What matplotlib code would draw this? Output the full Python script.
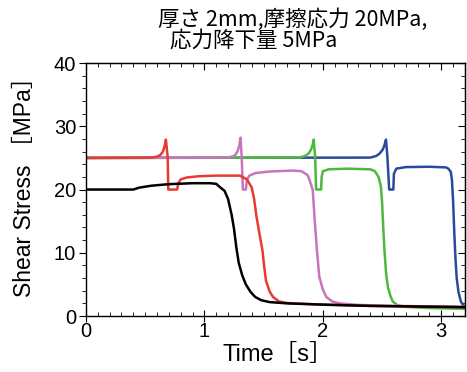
import matplotlib
matplotlib.use("Agg")
import matplotlib.pyplot as plt
from matplotlib.ticker import MultipleLocator

plt.rcParams['font.family'] = ['Liberation Sans', 'Noto Sans CJK JP', 'DejaVu Sans']

# time [s], shear stress [MPa]
t_black = [0, 0.40, 0.45, 0.55, 0.70, 0.90, 1.05, 1.10, 1.13, 1.17, 1.20, 1.23, 1.25, 1.27, 1.29,
           1.32, 1.35, 1.39, 1.43, 1.48, 1.55, 1.70, 2.0, 2.4, 2.8, 3.2]
s_black = [20, 20, 20.3, 20.6, 20.85, 21.0, 21.0, 20.9, 20.4, 19.8, 18.5, 16.0, 13.8, 10.8, 8.4,
           6.4, 5.0, 3.8, 3.0, 2.5, 2.2, 2.0, 1.8, 1.6, 1.5, 1.4]

t_red = [0, 0.55, 0.60, 0.63, 0.65, 0.66, 0.67, 0.675, 0.69, 0.695, 0.77, 0.78, 0.80, 0.85, 0.95,
         1.10, 1.30, 1.36, 1.40, 1.42, 1.44, 1.465, 1.49, 1.505, 1.52, 1.55, 1.58, 1.63, 1.70, 1.80,
         2.0, 2.4, 2.8, 3.2]
s_red = [25, 25.05, 25.2, 25.5, 26.0, 26.6, 27.3, 27.9, 25.2, 20.0, 20.0, 21.0, 21.6, 21.9, 22.1,
         22.2, 22.2, 21.6, 20.3, 18.5, 15.7, 13.0, 10.4, 7.8, 5.6, 3.9, 3.0, 2.3, 2.05, 1.95,
         1.8, 1.6, 1.5, 1.4]

t_mag = [0, 1.20, 1.25, 1.27, 1.285, 1.295, 1.305, 1.315, 1.325, 1.35, 1.36, 1.38, 1.43, 1.55,
         1.75, 1.82, 1.87, 1.89, 1.915, 1.93, 1.95, 1.97, 2.00, 2.03, 2.08, 2.14, 2.3, 2.6, 3.2]
s_mag = [25, 25.05, 25.3, 25.7, 26.3, 27.0, 28.2, 25.2, 20.0, 20.0, 21.6, 22.2, 22.6, 22.85,
         23.0, 22.9, 22.3, 21.4, 19.9, 15.5, 10.4, 6.2, 4.2, 3.0, 2.3, 2.0, 1.75, 1.6, 1.45]

t_green = [0, 1.80, 1.85, 1.88, 1.90, 1.913, 1.923, 1.935, 1.943, 1.985, 1.99, 2.00, 2.05, 2.20,
           2.40, 2.44, 2.47, 2.49, 2.50, 2.51, 2.52, 2.535, 2.55, 2.57, 2.59, 2.63, 2.70, 2.90, 3.2]
s_green = [25, 25.05, 25.3, 25.7, 26.3, 27.0, 27.9, 25.2, 20.0, 20.0, 22.0, 22.9, 23.2, 23.3,
           23.2, 22.9, 22.0, 20.5, 18.0, 14.0, 10.4, 6.5, 4.5, 3.2, 2.3, 1.7, 1.45, 1.25, 1.15]

t_blue = [0, 2.40, 2.45, 2.48, 2.505, 2.52, 2.533, 2.545, 2.56, 2.595, 2.60, 2.62, 2.70, 2.90,
          3.04, 3.06, 3.08, 3.09, 3.10, 3.11, 3.12, 3.13, 3.145, 3.165, 3.185, 3.2]
s_blue = [25, 25.05, 25.3, 25.7, 26.3, 27.0, 27.9, 25.2, 20.0, 20.0, 22.5, 23.3, 23.55, 23.6,
          23.5, 23.3, 22.8, 21.5, 18.0, 13.0, 9.0, 6.0, 3.8, 2.3, 1.7, 1.5]

title1 = "厚さ 2mm,摩擦応力 20MPa,"
title2 = "応力降下量 5MPa"

fig = plt.figure(figsize=(4.67, 3.72), dpi=100)
ax = fig.add_axes([0.184, 0.1505, 0.8117, 0.680])

lw = 1.8
ax.plot(t_blue, s_blue, color="#2b4a9b", lw=lw)
ax.plot(t_green, s_green, color="#4db93c", lw=lw)
ax.plot(t_mag, s_mag, color="#c875b9", lw=lw)
ax.plot(t_red, s_red, color="#e83a30", lw=lw)
ax.plot(t_black, s_black, color="black", lw=lw)

ax.set_xlim(0, 3.2)
ax.set_ylim(0, 40)
ax.xaxis.set_major_locator(MultipleLocator(1))
ax.xaxis.set_minor_locator(MultipleLocator(0.1))
ax.yaxis.set_major_locator(MultipleLocator(10))
ax.yaxis.set_minor_locator(MultipleLocator(2))

ax.tick_params(axis="y", which="both", direction="out", left=True, right=False, labelsize=14.5, pad=2)
ax.tick_params(axis="y", which="major", length=5)
ax.tick_params(axis="y", which="minor", length=3)
ax.tick_params(axis="x", which="major", direction="inout", length=8, labelsize=14.5, pad=0)
ax.tick_params(axis="x", which="minor", direction="in", length=3)

# ticks drawn inside on top and right
ax_top = ax.secondary_xaxis("top")
ax_top.xaxis.set_major_locator(MultipleLocator(1))
ax_top.xaxis.set_minor_locator(MultipleLocator(0.1))
ax_top.tick_params(which="both", direction="in", labeltop=False)
ax_top.tick_params(which="major", length=5)
ax_top.tick_params(which="minor", length=3)
ax_right = ax.secondary_yaxis("right")
ax_right.yaxis.set_major_locator(MultipleLocator(10))
ax_right.yaxis.set_minor_locator(MultipleLocator(2))
ax_right.tick_params(which="both", direction="in", labelright=False)
ax_right.tick_params(which="major", length=5)
ax_right.tick_params(which="minor", length=3)

for sp in ax.spines.values():
    sp.set_linewidth(1.0)

ax.set_xlabel("Time［s］", fontsize=17)
ax.xaxis.set_label_coords(0.505, -0.11)
ax.set_ylabel("Shear Stress ［MPa］", fontsize=16.5, va="center")
ax.yaxis.set_label_coords(-0.161, 0.534)

fig.text(158 / 467, 1 - 8 / 372, title1, fontsize=15.5, va="top", ha="left",
         family=["Noto Sans CJK JP"])
fig.text(170 / 467, 1 - 30 / 372, title2, fontsize=15.5, va="top", ha="left",
         family=["Noto Sans CJK JP"])

fig.savefig("out.png", dpi=100)
